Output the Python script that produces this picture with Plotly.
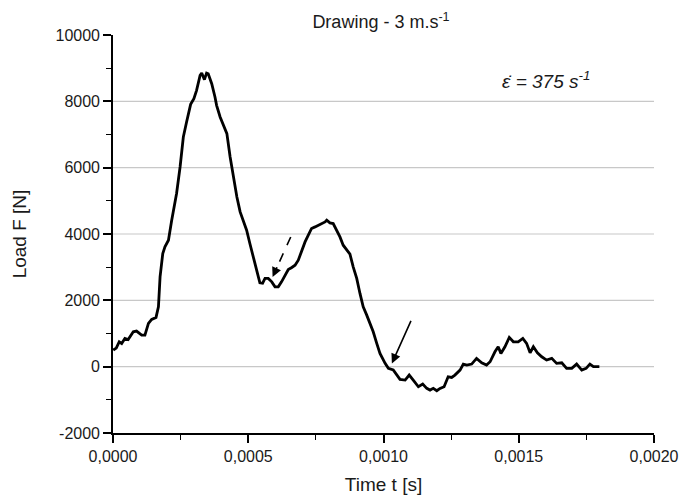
import plotly.graph_objects as go

# ---- data ----
time_s = [0.000001, 0.000012, 0.000023, 0.000032, 0.000044, 0.000056, 0.000075, 0.000087,
          0.000106, 0.000118, 0.000131, 0.000143, 0.000159, 0.000168, 0.000174, 0.000184,
          0.000192, 0.000205, 0.000217, 0.000235, 0.000248, 0.000260, 0.000272, 0.000287,
          0.000299, 0.000309, 0.000322, 0.000328, 0.000338, 0.000346, 0.000352, 0.000365,
          0.000377, 0.000383, 0.000396, 0.000408, 0.000421, 0.000433, 0.000445, 0.000458,
          0.000470, 0.000482, 0.000494, 0.000506, 0.000520, 0.000531, 0.000543, 0.000553,
          0.000562, 0.000574, 0.000587, 0.000599, 0.000611, 0.000623, 0.000636, 0.000648,
          0.000661, 0.000673, 0.000685, 0.000698, 0.000710, 0.000722, 0.000734, 0.000747,
          0.000759, 0.000771, 0.000784, 0.000790, 0.000802, 0.000814, 0.000827, 0.000839,
          0.000851, 0.000864, 0.000876, 0.000888, 0.000901, 0.000913, 0.000925, 0.000938,
          0.000950, 0.000962, 0.000975, 0.000987, 0.001006, 0.001018, 0.001036, 0.001049,
          0.001061, 0.001080, 0.001095, 0.001110, 0.001129, 0.001145, 0.001160, 0.001172,
          0.001184, 0.001197, 0.001209, 0.001224, 0.001239, 0.001252, 0.001264, 0.001283,
          0.001295, 0.001308, 0.001326, 0.001344, 0.001363, 0.001381, 0.001394, 0.001412,
          0.001424, 0.001434, 0.001449, 0.001465, 0.001480, 0.001498, 0.001515, 0.001529,
          0.001542, 0.001554, 0.001569, 0.001585, 0.001603, 0.001622, 0.001640, 0.001659,
          0.001677, 0.001696, 0.001714, 0.001733, 0.001749, 0.001763, 0.001776, 0.001798]
load_N = [500, 560, 750, 700, 852, 820, 1051, 1072,
          952, 952, 1304, 1424, 1485, 1805, 2708, 3412,
          3612, 3813, 4415, 5220, 6021, 6925, 7376, 7909,
          8081, 8331, 8783, 8853, 8653, 8853, 8833, 8533,
          8130, 7879, 7527, 7277, 7027, 6322, 5720, 5117,
          4666, 4415, 4114, 3713, 3262, 2858, 2527, 2517,
          2660, 2660, 2557, 2407, 2407, 2557, 2759, 2930,
          2990, 3060, 3211, 3512, 3762, 3964, 4166, 4214,
          4265, 4295, 4365, 4415, 4335, 4315, 4114, 3913,
          3662, 3512, 3391, 3009, 2660, 2208, 1805, 1554,
          1304, 1051, 702, 400, 99, -51, -102, -253,
          -383, -404, -253, -404, -605, -524, -654, -705,
          -654, -726, -654, -605, -304, -324, -253, -102,
          78, 48, 78, 250, 117, 48, 148, 449,
          600, 400, 600, 882, 750, 750, 852, 702,
          420, 600, 420, 298, 199, 250, 99, 117,
          -51, -51, 78, -102, -51, 78, 0, 0]

x_tick_vals = [0.0, 0.0005, 0.0010, 0.0015, 0.0020]
x_tick_text = ["0,0000", "0,0005", "0,0010", "0,0015", "0,0020"]
y_tick_vals = [-2000, 0, 2000, 4000, 6000, 8000, 10000]
y_tick_text = ["-2000", "0", "2000", "4000", "6000", "8000", "10000"]
grid_vals = [0, 2000, 4000, 6000, 8000]

# arrows: (tail_t, tail_F, tip_t, tip_F)
dashed_arrow = (0.000657, 3910, 0.000590, 2706)
solid_arrow = (0.001104, 1424, 0.001031, 99)

FONT = "Liberation Sans, Arial, sans-serif"
TXT = "#1a1a1a"

fig = go.Figure()
fig.add_trace(go.Scatter(x=time_s, y=load_N, mode="lines",
                         line=dict(color="black", width=2.8), showlegend=False,
                         hoverinfo="skip"))

shapes = []
for g in grid_vals:
    shapes.append(dict(type="line", xref="paper", x0=0, x1=1, yref="y", y0=g, y1=g,
                       line=dict(color="#c8c8c8", width=1.2), layer="below"))

# dashed arrow shaft
t0, f0, t1, f1 = dashed_arrow
frac = 0.72
shapes.append(dict(type="line", xref="x", yref="y", x0=t0, y0=f0,
                   x1=t0 + (t1 - t0) * frac, y1=f0 + (f1 - f0) * frac,
                   line=dict(color="black", width=1.6, dash="dash")))

annotations = [
    dict(x=t1, y=f1, xref="x", yref="y", axref="x", ayref="y",
         ax=t0 + (t1 - t0) * frac, ay=f0 + (f1 - f0) * frac,
         showarrow=True, arrowhead=2, arrowsize=1.2, arrowwidth=1.6,
         arrowcolor="black", text=""),
    dict(x=solid_arrow[2], y=solid_arrow[3], xref="x", yref="y", axref="x", ayref="y",
         ax=solid_arrow[0], ay=solid_arrow[1],
         showarrow=True, arrowhead=2, arrowsize=1.2, arrowwidth=1.6,
         arrowcolor="black", text=""),
    dict(x=(546 - 113) / 541, y=1 - (80 - 34.5) / 398.5, xref="paper", yref="paper",
         xanchor="center", yanchor="middle",
         text="<i>ε̇ = 375 s<sup>-1</sup></i>", showarrow=False,
         font=dict(family=FONT, size=19, color=TXT)),
]

fig.update_layout(
    width=679, height=495,
    margin=dict(l=113, r=25, t=34.5, b=62, autoexpand=False),
    paper_bgcolor="white", plot_bgcolor="white",
    font=dict(family=FONT, size=16, color=TXT),
    title=dict(text="Drawing - 3 m.s<sup>-1</sup>", x=381 / 679, xref="container",
               xanchor="center", y=1 - 22 / 495, yref="container", yanchor="middle",
               font=dict(family=FONT, size=18, color=TXT)),
    shapes=shapes,
    annotations=annotations,
    xaxis=dict(range=[0, 0.002], tickvals=x_tick_vals, ticktext=x_tick_text,
               showgrid=False, zeroline=False, showline=True, linecolor="black",
               linewidth=1.6, ticks="outside", ticklen=8, tickwidth=1.6,
               tickcolor="black", tickfont=dict(size=16), automargin=False,
               minor=dict(ticks="outside", ticklen=5, tickwidth=1.3, tickcolor="black",
                          dtick=0.00025, tick0=0, showgrid=False),
               title=dict(text="Time t [s]", font=dict(size=19), standoff=14)),
    yaxis=dict(range=[-2000, 10000], tickvals=y_tick_vals, ticktext=y_tick_text,
               showgrid=False, zeroline=False, showline=True, linecolor="black",
               linewidth=1.6, ticks="outside", ticklen=8, tickwidth=1.6,
               tickcolor="black", tickfont=dict(size=16), automargin=False,
               minor=dict(ticks="outside", ticklen=5, tickwidth=1.3, tickcolor="black",
                          dtick=1000, tick0=0, showgrid=False),
               title=dict(text="Load F [N]", font=dict(size=19), standoff=24)),
)

fig.write_html("out.html", config={"displayModeBar": False},
               post_script="document.body.style.margin='0px';document.body.style.overflow='hidden';")
